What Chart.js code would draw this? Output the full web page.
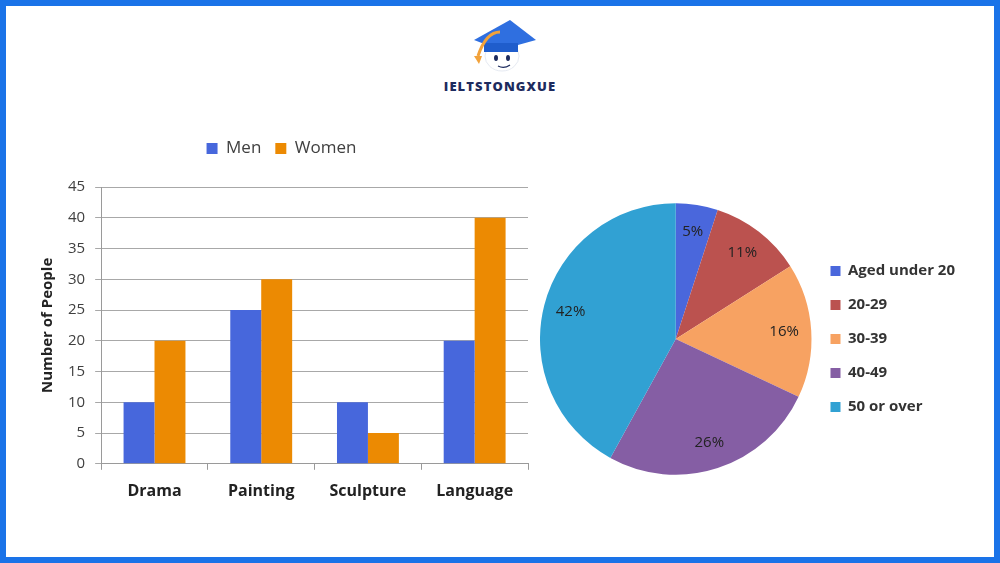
<!DOCTYPE html>
<html>
<head>
<meta charset="utf-8">
<script src="https://cdn.jsdelivr.net/npm/chart.js@4.4.0/dist/chart.umd.min.js"></script>
<style>
  html, body { margin: 0; padding: 0; background: #fff; }
  body { width: 1000px; height: 563px; position: relative; overflow: hidden; font-family: "Open Sans", sans-serif; }
  .frame { position: absolute; left: 0; top: 0; width: 988px; height: 551px; border: 6px solid #1a73e8; }
  .logo { position: absolute; left: 430px; top: 14px; width: 140px; text-align: center; }
  .logo .name { font-family: "Open Sans", sans-serif; font-weight: 800; font-size: 13px; letter-spacing: 1.1px; color: #1d2b5e; margin-top: -4px; }
  #barBox { position: absolute; left: 24px; top: 120px; width: 526px; height: 397px; }
  #pieBox { position: absolute; left: 540px; top: 189px; width: 449px; height: 300px; }
</style>
</head>
<body>
<div class="frame"></div>
<div class="logo">
  <svg width="80" height="62" viewBox="0 0 80 62">
    <ellipse cx="42" cy="42" rx="17" ry="15" fill="#fff" stroke="#e6eaf2" stroke-width="1"/>
    <polygon points="14,26 50,6 76,26 40,36" fill="#2f6fe0"/>
    <polygon points="24,29 58,29 58,38 24,38" fill="#1f5dcc"/>
    <path d="M40,18 C28,18 22,30 18,42" stroke="#f2a23a" stroke-width="3" fill="none"/>
    <path d="M14,42 L22,42 L19,50 Z" fill="#f2a23a"/>
    <ellipse cx="36" cy="44" rx="2" ry="3" fill="#1d2b5e"/>
    <ellipse cx="48" cy="44" rx="2" ry="3" fill="#1d2b5e"/>
    <path d="M38,52 Q44,55 50,51" stroke="#1d2b5e" stroke-width="1.2" fill="none"/>
  </svg>
  <div class="name">IELTSTONGXUE</div>
</div>
<div id="barBox"><canvas id="barChart"></canvas></div>
<div id="pieBox"><canvas id="pieChart"></canvas></div>
<script>
const categories = ['Drama', 'Painting', 'Sculpture', 'Language'];
const menValues = [10, 25, 10, 20];
const womenValues = [20, 30, 5, 40];
const yTicks = [0, 5, 10, 15, 20, 25, 30, 35, 40, 45];

const ageGroups = ['Aged under 20', '20-29', '30-39', '40-49', '50 or over'];
const agePercents = [5, 11, 16, 26, 42];
const ageColors = ['#4a67dc', '#bb524f', '#f7a262', '#855ea4', '#31a1d3'];

Chart.defaults.font.family = '"Open Sans", sans-serif';
Chart.defaults.animation = false;

const legendGap = {
  id: 'legendGap',
  beforeInit(chart) {
    const fit = chart.legend.fit;
    chart.legend.fit = function () { fit.call(this); this.height += 20; };
  }
};

new Chart(document.getElementById('barChart'), {
  type: 'bar',
  data: {
    labels: categories,
    datasets: [
      { label: 'Men', data: menValues, backgroundColor: '#4767dc', barPercentage: 1, categoryPercentage: 0.58 },
      { label: 'Women', data: womenValues, backgroundColor: '#ec8a02', barPercentage: 1, categoryPercentage: 0.58 }
    ]
  },
  options: {
    responsive: true,
    maintainAspectRatio: false,
    layout: { padding: { top: 6, right: 22, left: 11, bottom: 4 } },
    plugins: {
      legend: {
        position: 'top',
        labels: { boxWidth: 11, boxHeight: 11, color: '#404040', font: { size: 17 }, padding: 14 }
      },
      tooltip: { enabled: false }
    },
    scales: {
      x: {
        grid: { offset: true, drawOnChartArea: false, drawTicks: true, tickLength: 6, color: '#9a9a9a' },
        border: { color: '#9a9a9a' },
        ticks: { color: '#222', font: { size: 16, weight: 'bold' }, padding: 12 }
      },
      y: {
        min: 0,
        max: 45,
        afterBuildTicks(axis) { axis.ticks = yTicks.map(v => ({ value: v })); },
        grid: { color: '#a8a8a8', tickLength: 6 },
        border: { color: '#9a9a9a' },
        ticks: { color: '#404040', font: { size: 15 }, padding: 10 },
        title: { display: true, text: 'Number of People', color: '#222', font: { size: 15, weight: 'bold' }, padding: { bottom: 1 } }
      }
    }
  },
  plugins: [legendGap]
});

const pieLabels = {
  id: 'pieLabels',
  afterDatasetsDraw(chart) {
    const ctx = chart.ctx;
    const meta = chart.getDatasetMeta(0);
    ctx.save();
    ctx.font = '15px "Open Sans", sans-serif';
    ctx.fillStyle = '#222';
    ctx.textAlign = 'center';
    ctx.textBaseline = 'middle';
    meta.data.forEach((arc, i) => {
      const p = arc.getProps(['x', 'y', 'startAngle', 'endAngle', 'outerRadius'], true);
      const mid = (p.startAngle + p.endAngle) / 2;
      const r = p.outerRadius * 0.8;
      ctx.fillText(agePercents[i] + '%', p.x + Math.cos(mid) * r, p.y + Math.sin(mid) * r);
    });
    ctx.restore();
  }
};

new Chart(document.getElementById('pieChart'), {
  type: 'pie',
  data: {
    labels: ageGroups,
    datasets: [{ data: agePercents, backgroundColor: ageColors, borderWidth: 0 }]
  },
  options: {
    responsive: true,
    maintainAspectRatio: false,
    layout: { padding: { top: 14, bottom: 14, right: 24 } },
    plugins: {
      legend: {
        position: 'right',
        labels: { boxWidth: 10, boxHeight: 10, color: '#333', font: { size: 15, weight: 'bold' }, padding: 19 }
      },
      tooltip: { enabled: false }
    }
  },
  plugins: [pieLabels]
});
</script>
</body>
</html>
